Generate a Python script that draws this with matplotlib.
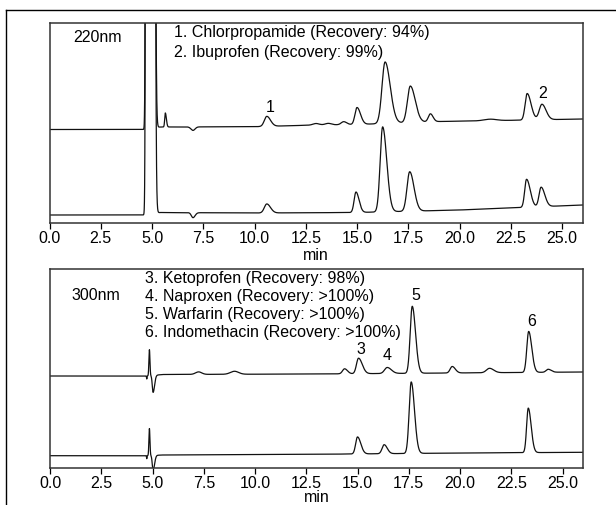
import numpy as np
import matplotlib
matplotlib.use("Agg")
import matplotlib.pyplot as plt
from matplotlib.lines import Line2D

plt.rcParams['font.family'] = ['Liberation Sans', 'DejaVu Sans']

# ---------------- data ----------------
# time axis
x_ticks = [0.0, 2.5, 5.0, 7.5, 10.0, 12.5, 15.0, 17.5, 20.0, 22.5, 25.0]
x_tick_labels = ["0.0", "2.5", "5.0", "7.5", "10.0", "12.5", "15.0", "17.5", "20.0", "22.5", "25.0"]
x_max = 26.0

# 220 nm, upper trace (spiked sample): baseline knots
b220u_t = [0.0, 4.6, 5.4, 10.0, 13.0, 15.0, 19.0, 22.0, 26.0]
b220u_y = [93.5, 93.5, 96.0, 96.3, 98.0, 98.5, 101.5, 102.5, 104.0]
# peaks: retention time, height, left width, right width
p220u_rt = [4.85, 5.65, 7.0, 10.6, 13.0, 13.6, 14.35, 15.0, 16.37, 17.6, 18.58, 21.5, 23.3, 24.02]
p220u_h = [1e5, 14, -3.5, 10, 1.5, 1.5, 3, 17, 61.5, 36.5, 8, 1.5, 26.5, 15.5]
p220u_wl = [0.052, 0.03, 0.1, 0.12, 0.15, 0.15, 0.12, 0.1, 0.15, 0.14, 0.1, 0.3, 0.1, 0.13]
p220u_wr = [0.095, 0.05, 0.1, 0.18, 0.15, 0.15, 0.15, 0.17, 0.25, 0.24, 0.13, 0.3, 0.19, 0.2]

# 220 nm, lower trace (standard)
b220l_t = [0.0, 4.6, 5.4, 10.0, 15.0, 20.0, 26.0]
b220l_y = [8.0, 8.0, 10.5, 10.0, 10.5, 13.0, 18.0]
p220l_rt = [4.85, 7.0, 10.6, 14.95, 16.25, 17.57, 23.27, 23.98]
p220l_h = [1e5, -5, 9, 20.5, 85, 39.5, 28, 19.5]
p220l_wl = [0.052, 0.08, 0.12, 0.09, 0.12, 0.13, 0.09, 0.1]
p220l_wr = [0.095, 0.1, 0.18, 0.15, 0.2, 0.21, 0.18, 0.18]

# 300 nm, upper trace (spiked sample)
b300u_t = [0.0, 4.7, 5.5, 13.0, 26.0]
b300u_y = [92.0, 92.0, 93.5, 94.0, 96.0]
p300u_rt = [4.72, 4.85, 5.03, 7.25, 9.0, 14.37, 15.05, 16.45, 17.67, 19.62, 21.44, 23.35, 24.3]
p300u_h = [-3, 26, -17, 2.5, 3, 5, 15.5, 6, 67, 6.5, 4.4, 41, 3]
p300u_wl = [0.01, 0.025, 0.04, 0.15, 0.2, 0.1, 0.1, 0.13, 0.1, 0.1, 0.15, 0.09, 0.1]
p300u_wr = [0.01, 0.025, 0.07, 0.15, 0.2, 0.14, 0.18, 0.2, 0.16, 0.15, 0.2, 0.15, 0.15]

# 300 nm, lower trace (standard)
b300l_t = [0.0, 4.7, 5.5, 13.0, 20.0, 26.0]
b300l_y = [12.3, 12.3, 13.0, 13.7, 15.0, 15.7]
p300l_rt = [4.72, 4.85, 5.03, 15.0, 16.3, 17.62, 23.33]
p300l_h = [-3, 27, -15, 17, 9, 71.5, 44.5]
p300l_wl = [0.01, 0.025, 0.04, 0.09, 0.1, 0.1, 0.08]
p300l_wr = [0.01, 0.025, 0.07, 0.16, 0.15, 0.16, 0.14]

# annotation texts
wl_220 = "220nm"
legend_220 = ["1. Chlorpropamide (Recovery: 94%)", "2. Ibuprofen (Recovery: 99%)"]
peaklab_220 = ["1", "2"]
peaklab_220_xy = [(10.76, 115), (24.07, 129)]

wl_300 = "300nm"
legend_300 = ["3. Ketoprofen (Recovery: 98%)", "4. Naproxen (Recovery: >100%)",
              "5. Warfarin (Recovery: >100%)", "6. Indomethacin (Recovery: >100%)"]
peaklab_300 = ["3", "4", "5", "6"]
peaklab_300_xy = [(15.18, 119), (16.46, 113), (17.83, 173), (23.52, 147)]


# ---------------- helpers ----------------
t = np.linspace(0, x_max, 10401)


def trace(bt, by, rt, h, wl, wr):
    y = np.interp(t, bt, by)
    for c, a, sl, sr in zip(rt, h, wl, wr):
        s = np.where(t < c, sl, sr)
        y = y + a * np.exp(-0.5 * ((t - c) / s) ** 2)
    return y


FS = 11.5
fig = plt.figure(figsize=(6.16, 5.05), dpi=100)
W, H = 616.0, 505.0
ax1 = fig.add_axes([49.5 / W, 1 - 223 / H, 533 / W, 200 / H])
ax2 = fig.add_axes([50 / W, 1 - 468 / H, 533 / W, 199 / H])

for ax, ymax, lp in ((ax1, 200, 1.5), (ax2, 199, -1.0)):
    ax.set_xlim(0, x_max)
    ax.set_ylim(0, ymax)
    ax.set_yticks([])
    ax.set_xticks(x_ticks)
    ax.set_xticklabels(x_tick_labels, fontsize=FS)
    ax.tick_params(axis='x', direction='out', length=4, width=0.9, pad=2, colors='black')
    for sp in ax.spines.values():
        sp.set_linewidth(1.1)
        sp.set_color('#333333')
    ax.set_xlabel("min", fontsize=FS, labelpad=lp)

lc = '#111111'
lw = 0.9
ax1.plot(t, trace(b220u_t, b220u_y, p220u_rt, p220u_h, p220u_wl, p220u_wr), color=lc, lw=lw)
ax1.plot(t, trace(b220l_t, b220l_y, p220l_rt, p220l_h, p220l_wl, p220l_wr), color=lc, lw=lw)
ax2.plot(t, trace(b300u_t, b300u_y, p300u_rt, p300u_h, p300u_wl, p300u_wr), color=lc, lw=lw)
ax2.plot(t, trace(b300l_t, b300l_y, p300l_rt, p300l_h, p300l_wl, p300l_wr), color=lc, lw=lw)

# texts, top panel
ax1.text(1.17, 186, wl_220, fontsize=FS, ha='left', va='center')
for i, s in enumerate(legend_220):
    ax1.text(6.07, 190 - 20 * i, s, fontsize=FS, ha='left', va='center')
for s, (px, py) in zip(peaklab_220, peaklab_220_xy):
    ax1.text(px, py, s, fontsize=FS, ha='center', va='center')

# texts, bottom panel
ax2.text(1.05, 173, wl_300, fontsize=FS, ha='left', va='center')
for i, s in enumerate(legend_300):
    ax2.text(4.61, 189 - 17.7 * i, s, fontsize=FS, ha='left', va='center')
for s, (px, py) in zip(peaklab_300, peaklab_300_xy):
    ax2.text(px, py, s, fontsize=FS, ha='center', va='center')

# outer frame lines (top and left)
fig.add_artist(Line2D([6 / W, 1.0], [1 - 10 / H, 1 - 10 / H], transform=fig.transFigure, color='black', lw=1.0))
fig.add_artist(Line2D([6 / W, 6 / W], [0.0, 1 - 10 / H], transform=fig.transFigure, color='black', lw=1.0))

fig.savefig("out.png", dpi=100)
